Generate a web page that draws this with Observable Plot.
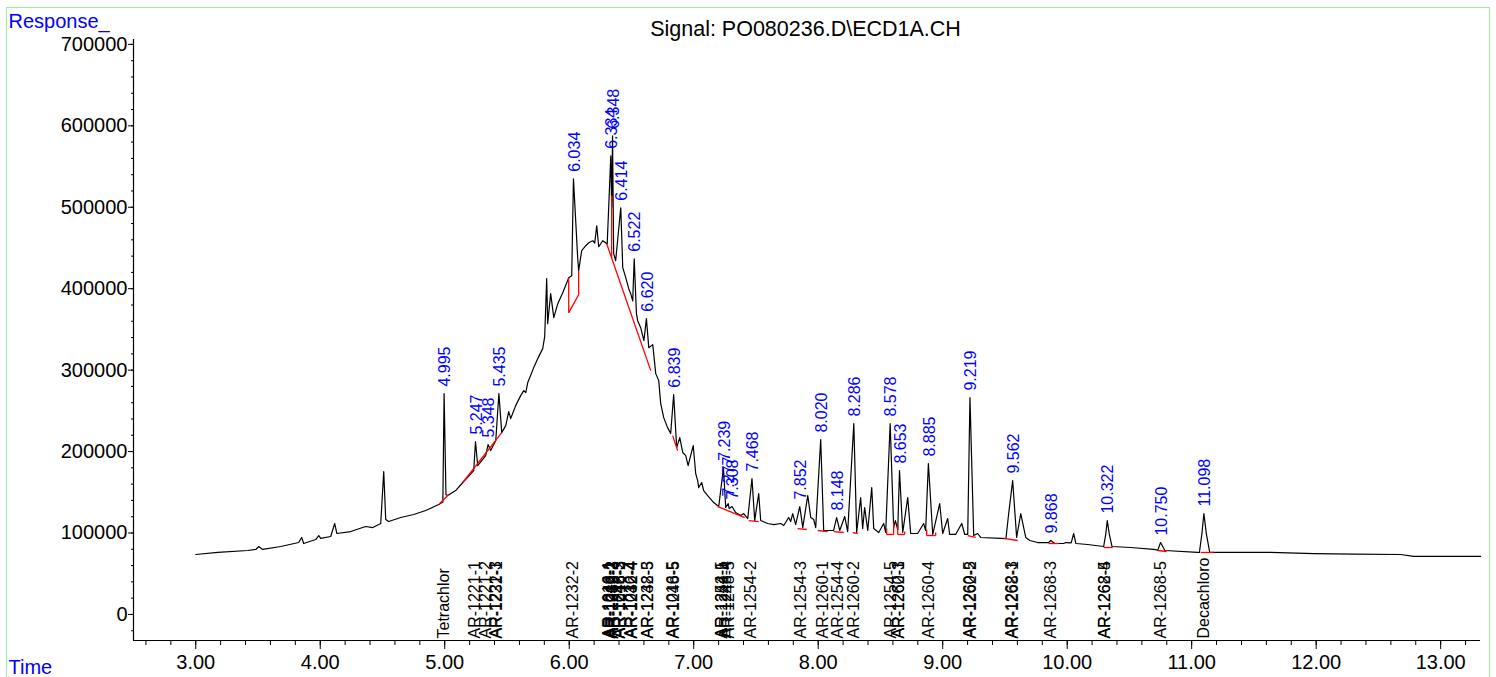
<!DOCTYPE html>
<html><head><meta charset="utf-8">
<script src="https://cdn.jsdelivr.net/npm/d3@7"></script>
<script src="https://cdn.jsdelivr.net/npm/@observablehq/plot@0.6"></script>
<style>
body{margin:0;background:#fff;font-family:"Liberation Sans",Arial,sans-serif;}
#wrap{position:relative;width:1496px;height:677px;overflow:hidden;}
#border{position:absolute;left:6px;top:7px;width:1484px;height:720px;border:1.5px solid #9ded9d;box-sizing:border-box;pointer-events:none;}
</style></head>
<body><div id="wrap"><div id="chart"></div><div id="border"></div></div>
<script>
// chromatogram trace: [time (min), response]
const trace = [
[3.000,73600],[3.177,76100],[3.418,78500],[3.482,79800],[3.506,83400],[3.538,79800],[3.683,83400],[3.827,88300],[3.851,94500],[3.867,87100],
[3.964,92000],[3.988,96900],[4.004,93300],[4.084,95700],[4.116,111700],[4.133,99400],[4.245,101800],[4.365,108000],[4.422,106700],[4.486,111700],
[4.510,175500],[4.526,116600],[4.550,114100],[4.647,119000],[4.751,122700],[4.847,127600],[4.952,135000],[4.985,138000],[4.995,271200],[5.010,147000],
[5.024,146000],[5.088,152100],[5.145,162000],[5.233,176700],[5.247,212300],[5.265,182800],[5.329,195100],[5.348,208600],[5.369,201200],[5.410,213500],
[5.435,271200],[5.458,223300],[5.490,231900],[5.514,249100],[5.530,240500],[5.570,256400],[5.610,268700],[5.635,274800],[5.651,272400],[5.667,284700],
[5.715,303100],[5.755,316600],[5.787,326400],[5.803,341100],[5.819,412300],[5.827,357100],[5.851,393900],[5.876,364400],[5.908,381600],[5.948,395100],
[5.980,407400],[5.996,413500],[6.020,416000],[6.034,535000],[6.068,438000],[6.076,422100],[6.100,446600],[6.133,452800],[6.157,456400],[6.189,458900],
[6.205,456000],[6.221,477300],[6.237,451500],[6.269,458900],[6.293,456400],[6.305,455000],[6.334,563200],[6.341,500000],[6.348,587700],[6.357,443000],
[6.373,434400],[6.414,499400],[6.430,425800],[6.454,413500],[6.478,400000],[6.494,393900],[6.510,385000],[6.522,436800],[6.540,369300],[6.550,360700],
[6.574,352100],[6.600,336200],[6.620,363200],[6.639,327600],[6.671,331300],[6.695,295700],[6.719,287100],[6.735,258900],[6.759,241700],[6.790,229400],
[6.815,222100],[6.839,269900],[6.863,204900],[6.888,217200],[6.912,198800],[6.936,195100],[6.955,182800],[6.996,207400],[7.016,173000],[7.032,164400],
[7.040,155800],[7.064,162000],[7.080,152100],[7.112,146000],[7.161,137400],[7.201,132500],[7.239,180000],[7.257,131300],[7.277,136200],[7.285,130000],
[7.308,132500],[7.337,125200],[7.378,121500],[7.402,123900],[7.434,117800],[7.468,166900],[7.490,115300],[7.522,148500],[7.538,115300],[7.594,111700],
[7.643,110400],[7.699,111700],[7.723,109200],[7.763,119000],[7.779,114100],[7.795,123900],[7.819,110400],[7.852,132500],[7.876,106700],[7.916,146000],
[7.940,119000],[7.964,116600],[7.980,106700],[8.020,214700],[8.044,103100],[8.124,103100],[8.148,119000],[8.173,103100],[8.213,120200],[8.237,101800],
[8.286,234400],[8.309,100600],[8.341,143600],[8.357,105500],[8.373,131300],[8.398,103100],[8.430,155800],[8.446,105500],[8.486,100600],[8.526,111700],
[8.542,100600],[8.578,234400],[8.606,106700],[8.620,115300],[8.639,104000],[8.653,176700],[8.679,100600],[8.719,143600],[8.743,99400],[8.799,99400],
[8.847,111700],[8.863,103100],[8.885,185300],[8.920,98200],[8.976,136200],[9.000,99400],[9.040,117800],[9.056,98200],[9.104,98200],[9.153,111700],
[9.177,98200],[9.201,98200],[9.219,266300],[9.249,97000],[9.281,99400],[9.305,94500],[9.466,93300],[9.508,93000],[9.530,123900],[9.562,164400],[9.594,94500],
[9.627,123900],[9.667,94500],[9.700,90800],[9.763,88300],[9.851,88300],[9.868,90800],[9.900,87100],[9.972,87100],[9.988,88300],[10.032,87800],[10.052,99400],
[10.070,87100],[10.165,85900],[10.293,83400],[10.310,99000],[10.322,115300],[10.338,99000],[10.360,83400],[10.510,82200],[10.695,79800],[10.728,79000],[10.750,88300],[10.785,78500],[11.048,76100],
[11.062,76100],[11.082,99000],[11.098,123900],[11.118,99000],[11.145,76100],[11.313,76100],[11.635,76100],[11.980,74800],[12.300,74000],[12.679,73600],[12.783,71200],[13.321,71200]
];

// integrated peaks: retention time and apex response
const peakTime = [4.995,5.247,5.348,5.435,6.034,6.334,6.348,6.414,6.522,6.620,6.839,7.239,7.277,7.308,7.468,7.852,8.020,8.148,8.286,8.578,8.653,8.885,9.219,9.562,9.868,10.322,10.750,11.098];
const peakResp = [271200,212300,208600,271200,535000,563200,587700,499400,436800,363200,269900,180000,136200,132500,166900,132500,214700,119000,234400,234400,176700,185300,266300,164400,90800,115300,88300,123900];

// integration baselines: [t1, v1, t2, v2]
const baselines = [
[4.960,136200,5.032,147200],[5.145,162000,5.458,223300],[5.996,370600,6.076,392600],[6.301,455200,6.655,299400],
[6.831,219600,6.871,201200],[7.193,132500,7.410,119000],[7.442,115300,7.522,114100],[7.835,105500,7.908,104300],
[7.996,103100,8.076,101800],[8.124,101800,8.205,100600],[8.277,100600,8.317,99400],[8.550,98200,8.606,98200],
[8.639,98200,8.695,98200],[8.871,96900,8.944,96900],[9.201,96900,9.265,94500],[9.490,93300,9.602,90800],
[9.851,87100,9.932,87100],[10.293,82200,10.365,82200],[10.727,78500,10.799,77300],[11.072,76100,11.177,76100]
];
// drop lines: [t, low, high]
const drops = [
[5.996,370600,413500],[6.076,392600,422100],[6.341,437600,514000],[8.550,98200,105500],[8.606,98200,112900],
[8.639,98200,109200],[8.695,98200,101800],[8.871,96900,104300],[8.944,96900,100600]
];

// compound names at bottom
const compoundTime = [4.995,5.247,5.330,5.415,5.420,6.034,6.322,6.326,6.330,6.345,6.350,6.352,6.400,6.404,6.408,6.500,6.504,6.508,6.630,6.634,6.835,6.840,7.225,7.230,7.262,7.285,7.460,7.858,8.036,8.157,8.285,8.582,8.645,8.650,8.888,9.222,9.226,9.560,9.564,9.867,10.300,10.304,10.751,11.096];
const compoundName = ["Tetrachlor","AR-1221-1","AR-1221-2","AR-1221-3","AR-1232-1","AR-1232-2","AR-1016-1","AR-1242-1","AR-1248-1","AR-1016-2","AR-1242-2","AR-1232-3","AR-1242-3","AR-1016-3","AR-1248-2","AR-1016-4","AR-1242-4","AR-1232-4","AR-1232-5","AR-1248-3","AR-1016-5","AR-1248-5","AR-1254-1","AR-1242-5","AR-1248-4","AR-1248-5","AR-1254-2","AR-1254-3","AR-1260-1","AR-1254-4","AR-1260-2","AR-1254-5","AR-1260-3","AR-1262-1","AR-1260-4","AR-1260-5","AR-1262-2","AR-1262-3","AR-1268-1","AR-1268-3","AR-1262-5","AR-1268-4","AR-1268-5","Decachloro"];

const xMajor = [3,4,5,6,7,8,9,10,11,12,13];
const yMajor = [0,100000,200000,300000,400000,500000,600000,700000];
const xMinor = d3.range(13, 67).map(i => i / 5);
const yMinor = d3.range(-1, 36).map(i => i * 20000);

const traceData = trace.map(([t, v]) => ({t, v}));
const peaks = peakTime.map((t, i) => ({t, v: peakResp[i]}));
const baseData = baselines.map(([t1, v1, t2, v2]) => ({t1, v1, t2, v2}));
const dropData = drops.map(([t, lo, hi]) => ({t, lo, hi}));
const compounds = compoundTime.map((t, i) => ({t, name: compoundName[i]}));

const font = '"Liberation Sans", Arial, sans-serif';
const chart = Plot.plot({
  width: 1496, height: 677,
  marginLeft: 133, marginRight: 16, marginTop: 39, marginBottom: 37,
  style: {fontFamily: font, background: "white", overflow: "visible"},
  x: {domain: [2.5, 13.32], label: null},
  y: {domain: [-32000, 706000], label: null},
  marks: [
    Plot.ruleX([2.5], {stroke: "black", strokeWidth: 1.2}),
    Plot.ruleY([-32000], {stroke: "black", strokeWidth: 1.2}),
    Plot.axisY({ticks: yMajor, tickSize: 5, tickPadding: 1, fontSize: 20, tickFormat: d3.format("d"), label: null, fill: "black"}),
    Plot.axisY({ticks: yMinor, tickSize: 2, tickFormat: () => "", label: null}),
    Plot.axisX({ticks: xMajor, tickSize: 9, tickPadding: 5, fontSize: 20, tickFormat: d3.format(".2f"), label: null, fill: "black"}),
    Plot.axisX({ticks: xMinor, tickSize: 5, tickFormat: () => "", label: null}),
    Plot.line(traceData, {x: "t", y: "v", stroke: "black", strokeWidth: 1.2}),
    Plot.link(baseData, {x1: "t1", y1: "v1", x2: "t2", y2: "v2", stroke: "#ff0000", strokeWidth: 1.3}),
    Plot.link(dropData, {x1: "t", x2: "t", y1: "lo", y2: "hi", stroke: "#ff0000", strokeWidth: 1.3}),
    Plot.text(peaks, {x: "t", y: "v", text: d => d.t.toFixed(3), rotate: -90, textAnchor: "start", dx: 1, dy: -7, fill: "#0000ff", fontSize: 16}),
    Plot.text(compounds, {x: "t", text: "name", frameAnchor: "bottom", rotate: -90, textAnchor: "start", dx: 5, dy: -2, fill: "black", fontSize: 16}),
    Plot.text(["Signal: PO080236.D\\ECD1A.CH"], {frameAnchor: "top", dx: -1.5, dy: -4, lineAnchor: "bottom", textAnchor: "middle", fontSize: 21.5, fill: "black"}),
    Plot.text(["Response_"], {frameAnchor: "top-left", dx: -125, dy: -12, lineAnchor: "bottom", textAnchor: "start", fontSize: 20, fill: "#0000ff"}),
    Plot.text(["Time"], {frameAnchor: "bottom-left", dx: -125, dy: 33, lineAnchor: "bottom", textAnchor: "start", fontSize: 20, fill: "#0000ff"})
  ]
});
document.getElementById("chart").appendChild(chart);
</script>
</body></html>
